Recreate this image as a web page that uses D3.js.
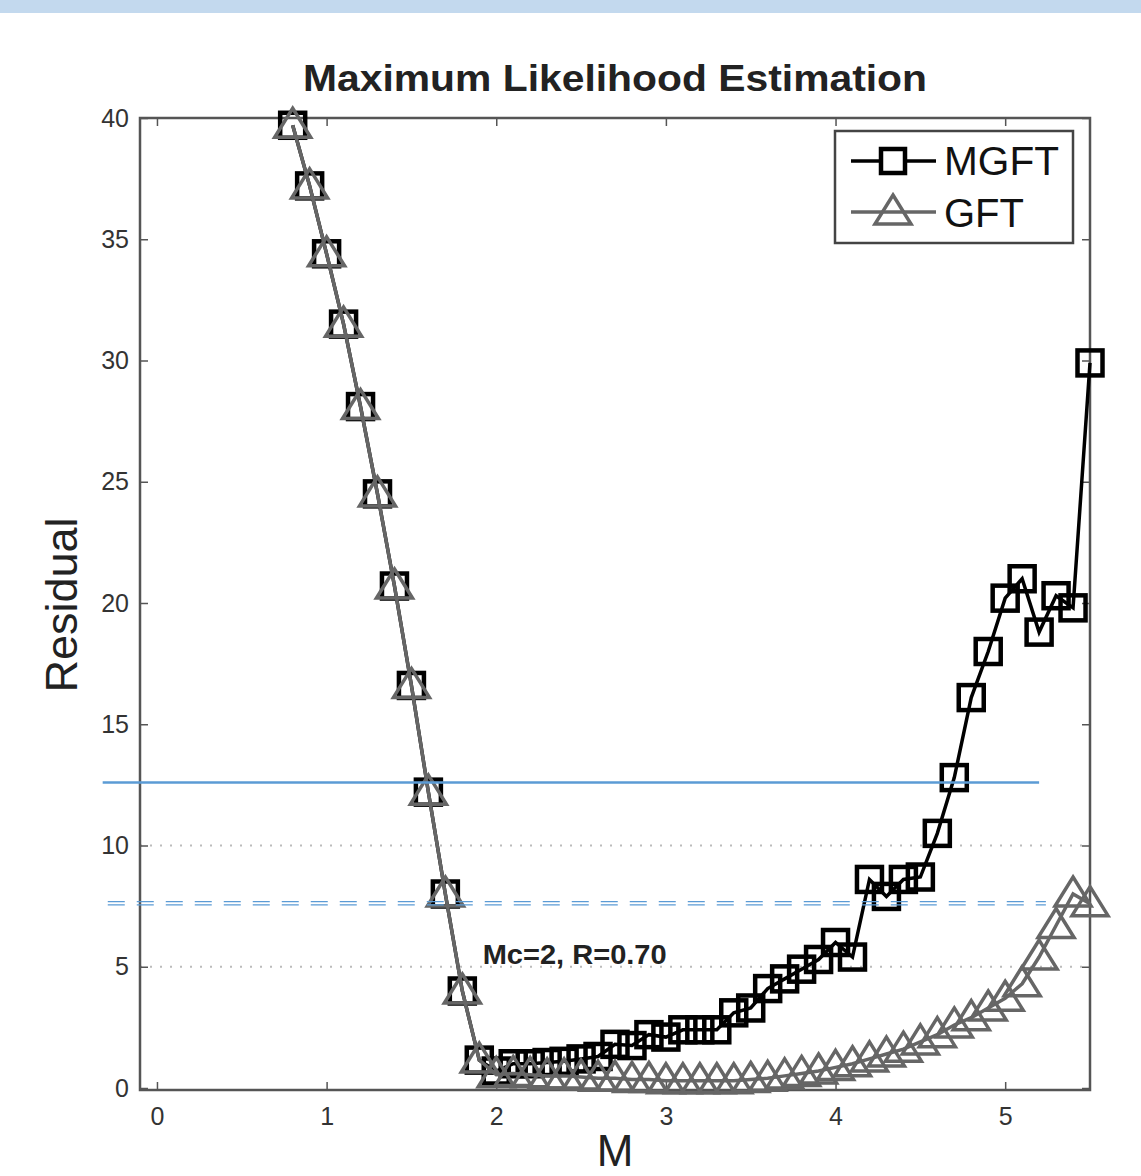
<!DOCTYPE html>
<html>
<head>
<meta charset="utf-8">
<script src="https://cdn.jsdelivr.net/npm/d3@7"></script>
<style>
  html, body { margin: 0; padding: 0; background: #fff; }
  svg { display: block; font-family: "Liberation Sans", Arial, sans-serif; }
</style>
</head>
<body>
<div id="container"></div>
<script>
// magnitude bins
var mValues = [0.8, 0.9, 1.0, 1.1, 1.2, 1.3, 1.4, 1.5, 1.6, 1.7, 1.8, 1.9,
  2.0, 2.1, 2.2, 2.3, 2.4, 2.5, 2.6, 2.7, 2.8, 2.9,
  3.0, 3.1, 3.2, 3.3, 3.4, 3.5, 3.6, 3.7, 3.8, 3.9,
  4.0, 4.1, 4.2, 4.3, 4.4, 4.5, 4.6, 4.7, 4.8, 4.9,
  5.0, 5.1, 5.2, 5.3, 5.4, 5.5];

var mgft = [39.7, 37.2, 34.4, 31.5, 28.1, 24.5, 20.7, 16.6, 12.2, 8.0, 4.0, 1.15,
  0.7, 1.0, 1.0, 1.05, 1.1, 1.2, 1.3, 1.8, 1.75, 2.2,
  2.1, 2.4, 2.4, 2.4, 3.1, 3.3, 4.1, 4.5, 4.9, 5.3,
  6.0, 5.4, 8.6, 7.9, 8.6, 8.7, 10.5, 12.8, 16.1, 18.0,
  20.2, 21.0, 18.8, 20.3, 19.8, 29.9];

var gft = [39.7, 37.2, 34.4, 31.5, 28.1, 24.5, 20.7, 16.6, 12.2, 8.0, 4.0, 1.15,
  0.55, 0.6, 0.55, 0.5, 0.5, 0.45, 0.4, 0.4, 0.35, 0.35,
  0.3, 0.3, 0.3, 0.3, 0.3, 0.35, 0.4, 0.5, 0.6, 0.7,
  0.85, 1.0, 1.2, 1.4, 1.6, 1.9, 2.2, 2.6, 2.9, 3.3,
  3.7, 4.3, 5.4, 6.7, 8.0, 7.6];

var xTicks = [0, 1, 2, 3, 4, 5];
var yTicks = [0, 5, 10, 15, 20, 25, 30, 35, 40];
var gridValues = [5, 10];

// overlaid blue reference lines: [residual level, M start, M end]
var solidRef = [12.6, -0.32, 5.2];
var dashedRef = [7.62, -0.29, 5.24];

var width = 1141,
    height = 1176;

var margin = { top: 118, right: 51, bottom: 86, left: 140 };

var xScale = d3.scaleLinear()
  .domain([-0.1, 5.5])
  .range([margin.left, width - margin.right]);

var yScale = d3.scaleLinear()
  .domain([0, 40])
  .range([1088, margin.top]);

var svg = d3.select('#container').append('svg')
  .attr('width', width)
  .attr('height', height);

// top banner
svg.append('rect')
  .attr('x', 0).attr('y', 0)
  .attr('width', width).attr('height', 13)
  .attr('fill', '#c3d9ee');

var x0 = margin.left, x1 = width - margin.right,
    y0 = margin.top, y1 = 1090;

// dotted grid
svg.selectAll('.grid')
  .data(gridValues)
  .enter().append('line')
  .attr('x1', x0).attr('x2', x1)
  .attr('y1', d => yScale(d)).attr('y2', d => yScale(d))
  .attr('stroke', '#bbb')
  .attr('stroke-width', 2)
  .attr('stroke-dasharray', '2,8');

// axes box
svg.append('rect')
  .attr('x', x0).attr('y', y0)
  .attr('width', x1 - x0).attr('height', y1 - y0)
  .attr('fill', 'none')
  .attr('stroke', '#555')
  .attr('stroke-width', 2.5);

var xAxisBottom = d3.axisBottom(xScale).tickValues(xTicks).tickSize(-8).tickPadding(17).tickFormat(d3.format('d'));
var xAxisTop = d3.axisTop(xScale).tickValues(xTicks).tickSize(-8).tickFormat('');
var yAxisLeft = d3.axisLeft(yScale).tickValues(yTicks).tickSize(-8).tickPadding(11).tickFormat(d3.format('d'));
var yAxisRight = d3.axisRight(yScale).tickValues(yTicks).tickSize(-8).tickFormat('');

function styleAxis(g) {
  g.select('.domain').remove();
  g.selectAll('.tick line').attr('stroke', '#555').attr('stroke-width', 1.5);
  g.selectAll('.tick text')
    .attr('fill', '#333')
    .style('font-size', '25px')
    .style('font-family', '"Liberation Sans", Arial, sans-serif');
}

svg.append('g').attr('transform', 'translate(0,' + y1 + ')').call(xAxisBottom).call(styleAxis);
svg.append('g').attr('transform', 'translate(0,' + y0 + ')').call(xAxisTop).call(styleAxis);
svg.append('g').attr('transform', 'translate(' + x0 + ',0)').call(yAxisLeft).call(styleAxis);
svg.append('g').attr('transform', 'translate(' + x1 + ',0)').call(yAxisRight).call(styleAxis);

// series
var mgftData = mValues.map((m, i) => ({ m: m, r: mgft[i] }));
var gftData = mValues.map((m, i) => ({ m: m, r: gft[i] }));

var line = d3.line()
  .x(d => xScale(d.m))
  .y(d => yScale(d.r));

var triPath = 'M0,-17L18,12L-18,12Z';

svg.append('path')
  .datum(mgftData)
  .attr('d', line)
  .attr('fill', 'none')
  .attr('stroke', '#000')
  .attr('stroke-width', 3.5);

svg.selectAll('.sq')
  .data(mgftData)
  .enter().append('rect')
  .attr('x', d => xScale(d.m) - 12.5)
  .attr('y', d => yScale(d.r) - 12.5)
  .attr('width', 25).attr('height', 25)
  .attr('fill', 'none')
  .attr('stroke', '#000')
  .attr('stroke-width', 4.5);

svg.append('path')
  .datum(gftData)
  .attr('d', line)
  .attr('fill', 'none')
  .attr('stroke', '#666')
  .attr('stroke-width', 3.5);

svg.selectAll('.tri')
  .data(gftData)
  .enter().append('path')
  .attr('d', triPath)
  .attr('transform', d => 'translate(' + xScale(d.m) + ',' + yScale(d.r) + ')')
  .attr('fill', 'none')
  .attr('stroke', '#666')
  .attr('stroke-width', 3.5);

// annotation
svg.append('text')
  .attr('x', xScale(1.92)).attr('y', yScale(5.1))
  .attr('fill', '#222')
  .attr('textLength', 184)
  .attr('lengthAdjust', 'spacingAndGlyphs')
  .style('font-size', '28px')
  .style('font-weight', 'bold')
  .text('Mc=2, R=0.70');

// blue overlay lines
svg.append('line')
  .attr('x1', xScale(solidRef[1])).attr('x2', xScale(solidRef[2]))
  .attr('y1', yScale(solidRef[0])).attr('y2', yScale(solidRef[0]))
  .attr('stroke', '#5b9bd5')
  .attr('stroke-width', 2.5);

[-1.6, 1.6].forEach(off => {
  svg.append('line')
    .attr('x1', xScale(dashedRef[1])).attr('x2', xScale(dashedRef[2]))
    .attr('y1', yScale(dashedRef[0]) + off).attr('y2', yScale(dashedRef[0]) + off)
    .attr('stroke', '#5b9bd5')
    .attr('stroke-width', 1.3)
    .attr('stroke-dasharray', '17,12');
});

// legend
var legend = svg.append('g');
legend.append('rect')
  .attr('x', 835).attr('y', 131)
  .attr('width', 238).attr('height', 112)
  .attr('fill', '#fff')
  .attr('stroke', '#444')
  .attr('stroke-width', 2.5);

legend.append('line')
  .attr('x1', 851).attr('x2', 936).attr('y1', 161).attr('y2', 161)
  .attr('stroke', '#000').attr('stroke-width', 3.5);
legend.append('rect')
  .attr('x', 881).attr('y', 149).attr('width', 24).attr('height', 24)
  .attr('fill', '#fff').attr('stroke', '#000').attr('stroke-width', 4.5);
legend.append('text')
  .attr('x', 944).attr('y', 175)
  .attr('fill', '#111')
  .attr('textLength', 115)
  .attr('lengthAdjust', 'spacingAndGlyphs')
  .style('font-size', '40px')
  .text('MGFT');

legend.append('line')
  .attr('x1', 851).attr('x2', 936).attr('y1', 212).attr('y2', 212)
  .attr('stroke', '#666').attr('stroke-width', 3.5);
legend.append('path')
  .attr('d', triPath)
  .attr('transform', 'translate(893,212)')
  .attr('fill', 'none').attr('stroke', '#666').attr('stroke-width', 3.5);
legend.append('text')
  .attr('x', 944).attr('y', 227)
  .attr('fill', '#111')
  .style('font-size', '40px')
  .text('GFT');

// titles
svg.append('text')
  .attr('x', 615).attr('y', 91)
  .attr('text-anchor', 'middle')
  .attr('fill', '#222')
  .attr('textLength', 624)
  .attr('lengthAdjust', 'spacingAndGlyphs')
  .style('font-size', '37px')
  .style('font-weight', 'bold')
  .text('Maximum Likelihood Estimation');

svg.append('text')
  .attr('x', xScale(2.7)).attr('y', 1166)
  .attr('text-anchor', 'middle')
  .attr('fill', '#222')
  .style('font-size', '44px')
  .text('M');

svg.append('text')
  .attr('transform', 'translate(77,605) rotate(-90)')
  .attr('text-anchor', 'middle')
  .attr('fill', '#222')
  .style('font-size', '45px')
  .text('Residual');
</script>
</body>
</html>
